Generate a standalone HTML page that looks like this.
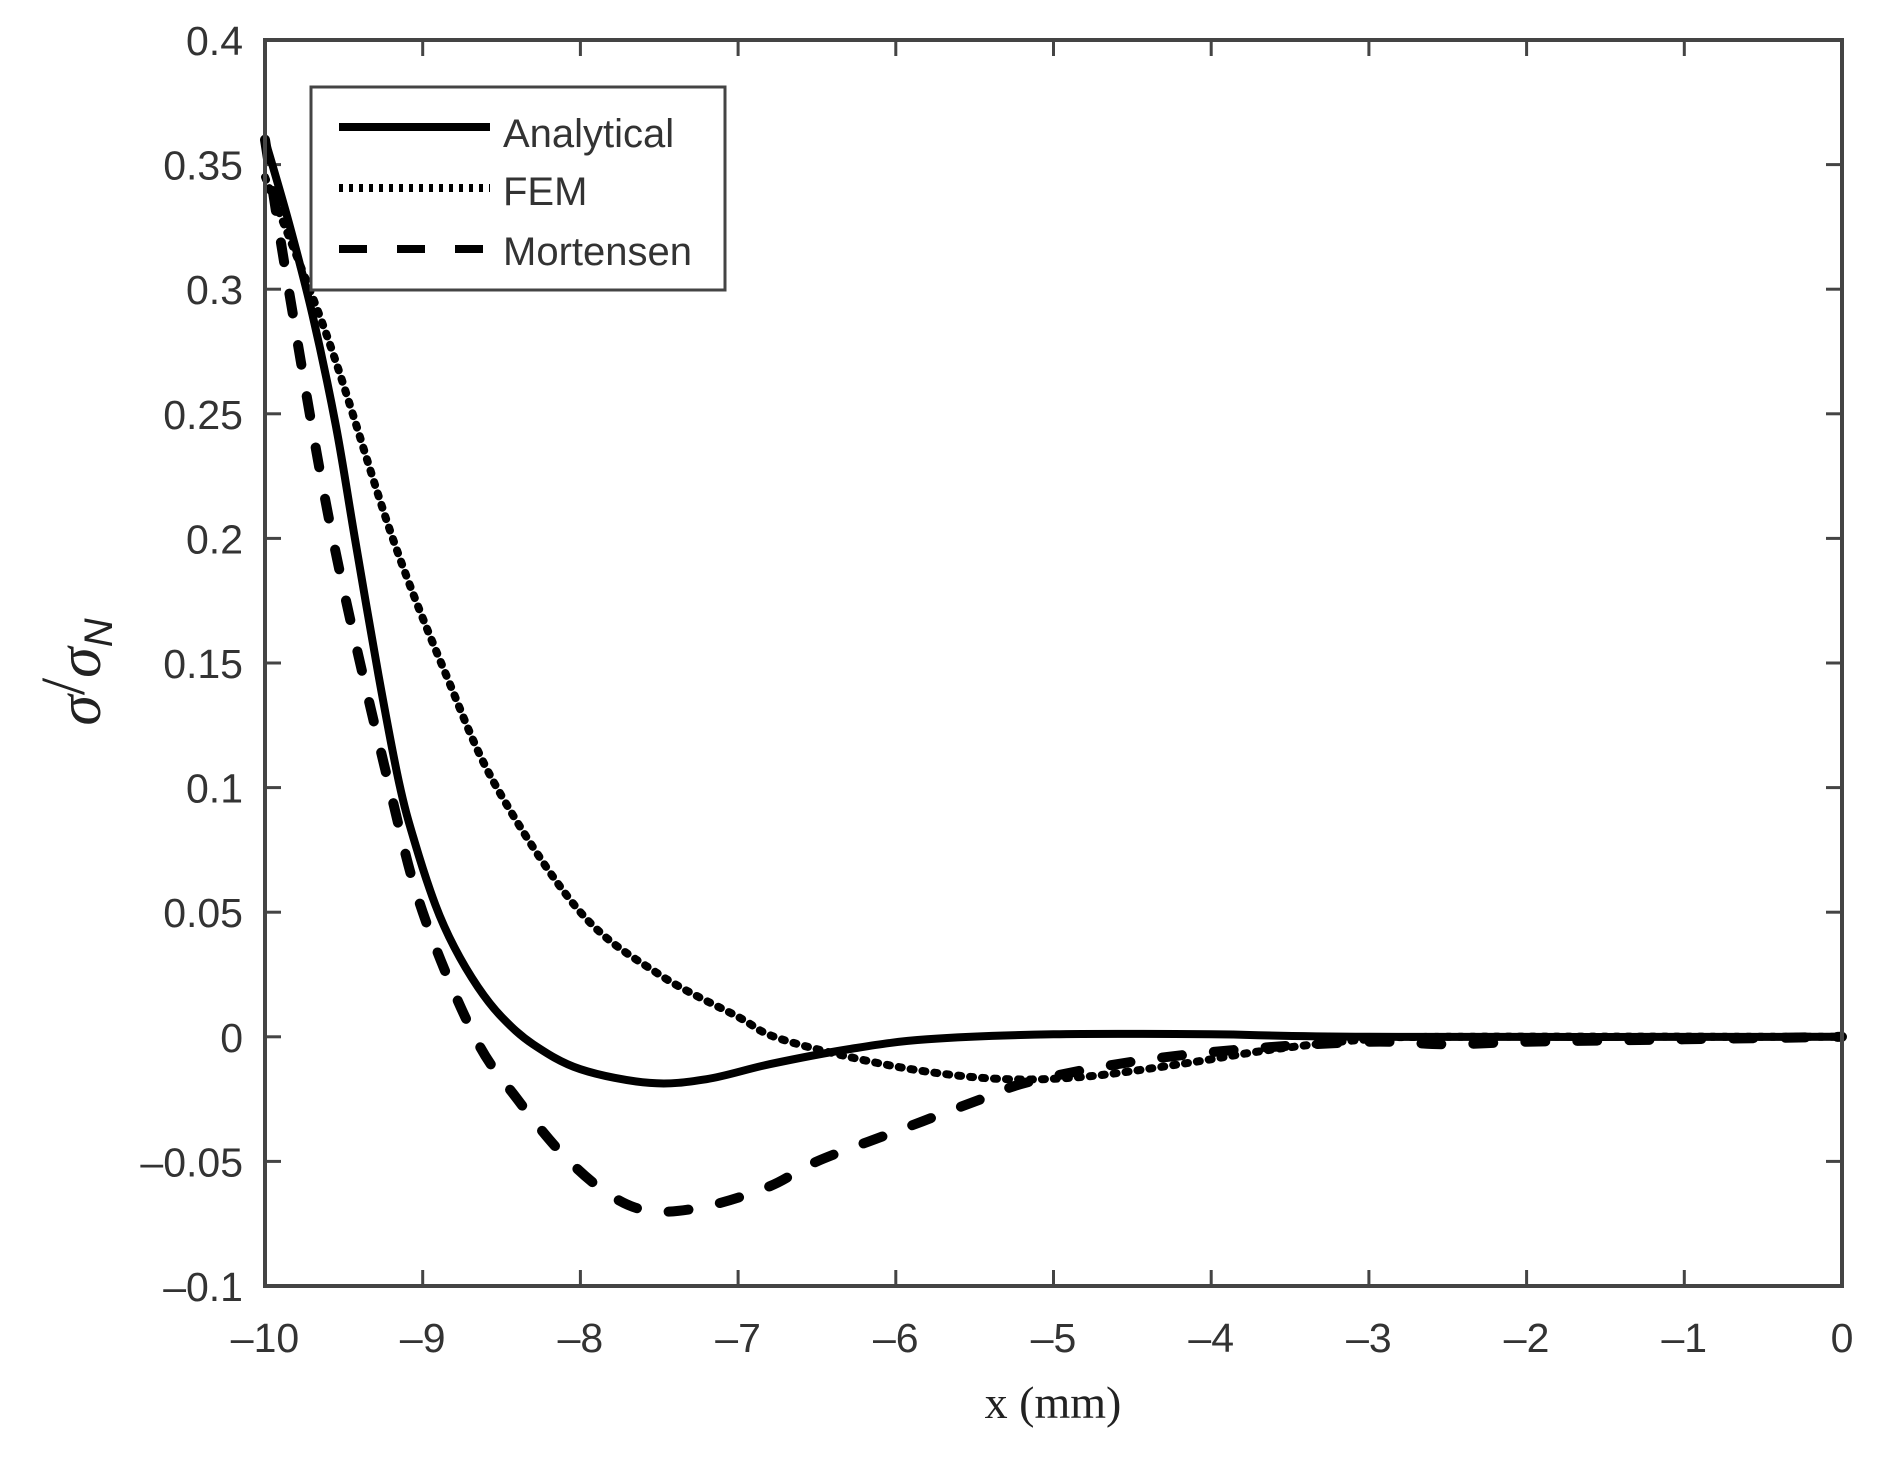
<!DOCTYPE html>
<html><head><meta charset="utf-8"><style>
html,body{margin:0;padding:0;background:#fff;}
svg{display:block;}
</style></head><body>
<svg id="s" width="1897" height="1464" viewBox="0 0 1897 1464" xmlns="http://www.w3.org/2000/svg">
<rect width="1897" height="1464" fill="#fff"/>
<g id="ticks" stroke="#444" stroke-width="3"></g>
<g id="curves" fill="none" stroke="#000" stroke-linecap="round" stroke-linejoin="round"></g>
<rect x="265" y="40" width="1577" height="1246" fill="none" stroke="#444" stroke-width="4"/>
<g id="labels" font-family="Liberation Sans, sans-serif" font-size="41" fill="#333"></g>
<g>
<rect x="311" y="87" width="414" height="203" fill="#fff" stroke="#444" stroke-width="3"/>
<line x1="339" y1="127" x2="490" y2="127" stroke="#000" stroke-width="8"/>
<line x1="339" y1="188" x2="490" y2="188" stroke="#000" stroke-width="8" stroke-dasharray="4 6" stroke-linecap="butt"/>
<line x1="339" y1="249" x2="490" y2="249" stroke="#000" stroke-width="8" stroke-dasharray="28 30"/>
<g font-family="Liberation Sans, sans-serif" font-size="40" fill="#333">
<text x="503" y="147">Analytical</text>
<text x="503" y="205">FEM</text>
<text x="503" y="265">Mortensen</text>
</g>
</g>
<text x="1053" y="1418" text-anchor="middle" font-family="Liberation Serif, serif" font-size="46" fill="#222">x (mm)</text>
<g transform="translate(100,672) rotate(-90)" font-family="Liberation Serif, serif" fill="#222">
<text x="0" y="0" text-anchor="middle" font-size="62"><tspan font-style="italic">σ</tspan><tspan dy="-16" font-size="62">/</tspan><tspan dy="16" font-style="italic">σ</tspan><tspan dy="12" font-size="40" font-style="italic" font-family="Liberation Sans, sans-serif">N</tspan></text>
</g>
</svg>
<script>
var X0=265,X1=1842,Y0=40,Y1=1286;
function px(x){return X0+(x+10)/10*(X1-X0);}
function py(y){return Y0+(0.4-y)/0.5*(Y1-Y0);}
var NS="http://www.w3.org/2000/svg";
function el(p,t,a,txt){var e=document.createElementNS(NS,t);for(var k in a)e.setAttribute(k,a[k]);if(txt!==undefined)e.textContent=txt;document.getElementById(p).appendChild(e);return e;}
for(var i=-10;i<=0;i++){var x=px(i);
 el('ticks','line',{x1:x,y1:Y1,x2:x,y2:Y1-16});el('ticks','line',{x1:x,y1:Y0,x2:x,y2:Y0+16});
 el('labels','text',{x:x,y:1352,'text-anchor':'middle'},i<0?'\u2013'+(-i):'0');}
var yl=['\u20130.1','\u20130.05','0','0.05','0.1','0.15','0.2','0.25','0.3','0.35','0.4'];
for(var j=0;j<=10;j++){var v=-0.1+j*0.05,y=py(v);
 el('ticks','line',{x1:X0,y1:y,x2:X0+16,y2:y});el('ticks','line',{x1:X1,y1:y,x2:X1-16,y2:y});
 el('labels','text',{x:243,y:y+15,'text-anchor':'end'},yl[j]);}
function path(pts){var p=pts.map(function(q){return [px(q[0]),py(q[1])];});
 var d='M'+p[0][0]+','+p[0][1];
 for(var i=0;i<p.length-1;i++){var a=p[Math.max(i-1,0)],b=p[i],c=p[i+1],e=p[Math.min(i+2,p.length-1)];
  d+=' C'+(b[0]+(c[0]-a[0])/6)+','+(b[1]+(c[1]-a[1])/6)+' '+(c[0]-(e[0]-b[0])/6)+','+(c[1]-(e[1]-b[1])/6)+' '+c[0]+','+c[1];}
 return d;}
var A=[[-10,0.36],[-9.85,0.327],[-9.7,0.29],[-9.55,0.245],[-9.43,0.2],[-9.28,0.145],[-9.15,0.102],[-9.05,0.078],[-8.92,0.053],[-8.8,0.036],[-8.65,0.02],[-8.5,0.008],[-8.3,-0.003],[-8,-0.013],[-7.56,-0.0185],[-7.2,-0.017],[-6.8,-0.011],[-6.3,-0.005],[-5.8,-0.001],[-5,0.001],[-4,0.001],[-3,0],[0,0]];
var F=[[-10,0.345],[-9.6,0.28],[-9.19,0.2],[-8.85,0.145],[-8.53,0.1],[-8.0,0.05],[-7.5,0.025],[-7.0,0.008],[-6.77,0],[-6.3,-0.008],[-5.8,-0.014],[-5.3,-0.017],[-4.8,-0.016],[-4.2,-0.011],[-3.6,-0.005],[-3,-0.001],[-2.5,0],[0,0]];
var M=[[-10,0.36],[-9.85,0.3],[-9.57,0.2],[-9.21,0.1],[-9.0,0.05],[-8.67,0],[-8.4,-0.025],[-8.1,-0.048],[-7.8,-0.064],[-7.54,-0.07],[-7.2,-0.068],[-6.8,-0.06],[-6.5,-0.05],[-6,-0.038],[-5.5,-0.026],[-5.15,-0.018],[-4.5,-0.01],[-3.8,-0.005],[-3,-0.002],[-2.5,-0.003],[-2,-0.002],[-1,-0.001],[0,0]];
el('curves','path',{d:path(A),'stroke-width':8});
el('curves','path',{d:path(F),'stroke-width':8,'stroke-dasharray':'3 9'});
el('curves','path',{d:path(M),'stroke-width':10,'stroke-dasharray':'20 32'});
</script>
</body></html>
